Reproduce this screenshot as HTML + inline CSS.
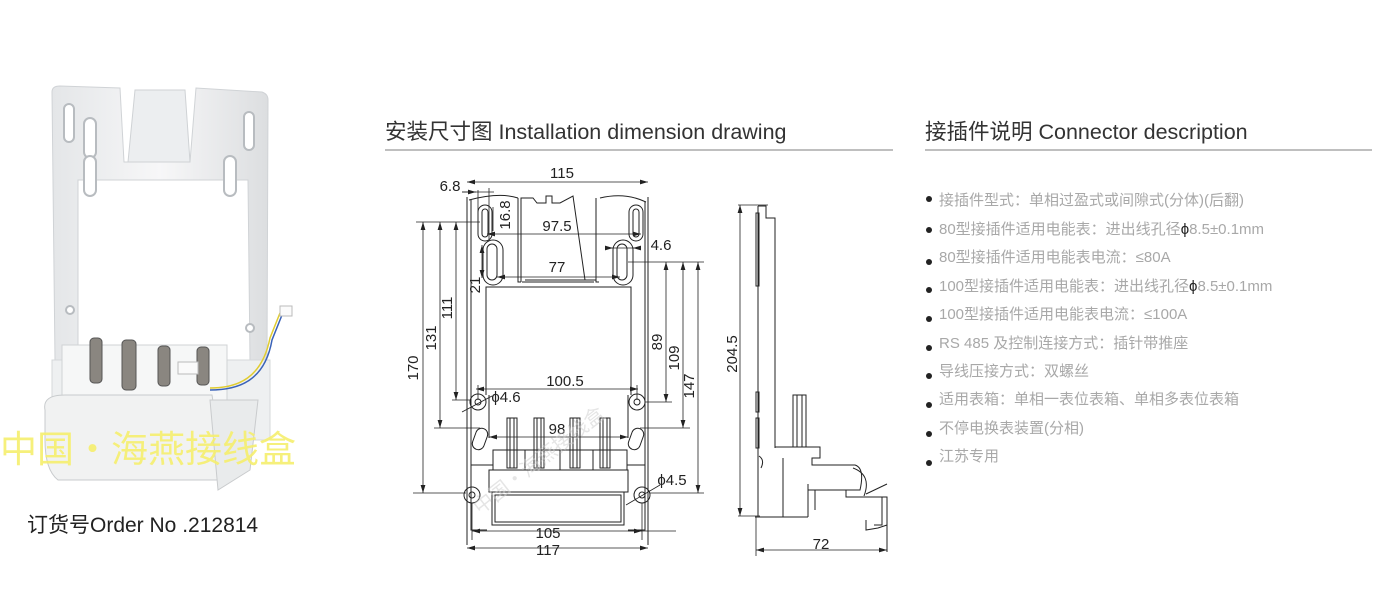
<!DOCTYPE html>
<html><head><meta charset="utf-8"><style>
html,body{margin:0;padding:0;background:#fff;}
body{width:1386px;height:594px;overflow:hidden;position:relative;font-family:"Liberation Sans","Noto Sans CJK SC",sans-serif;}
svg{position:absolute;left:0;top:0;}
</style></head><body>
<svg width="1386" height="594" viewBox="0 0 1386 594" xmlns="http://www.w3.org/2000/svg" font-family="Liberation Sans, Noto Sans CJK SC, sans-serif">
<defs>
<linearGradient id="g1" x1="0" x2="1"><stop offset="0" stop-color="#e4e6e8"/><stop offset="0.5" stop-color="#f7f7f8"/><stop offset="1" stop-color="#dcdee0"/></linearGradient>
<marker id="a" viewBox="0 0 10 6" refX="10" refY="3" markerWidth="10" markerHeight="6" orient="auto-start-reverse"><path d="M0,0 L10,3 L0,6 z" fill="#222"/></marker>
</defs>

<!-- PHOTO -->
<g>
<path d="M52,92 Q52,86 60,86 L120,88 L124,162 L190,162 L196,88 L262,92 Q268,94 268,100 L267,360 L250,360 L248,180 L78,180 L78,360 L55,360 Z" fill="url(#g1)" stroke="#d0d3d6"/>
<path d="M135,90 L185,90 L190,162 L128,162 Z" fill="#eceef0" stroke="#cfd2d5"/>
<rect x="84" y="118" width="12" height="40" rx="6" fill="#fff" stroke="#b8bcc0" stroke-width="2"/>
<rect x="84" y="156" width="12" height="40" rx="6" fill="#fff" stroke="#b8bcc0" stroke-width="2"/>
<rect x="224" y="156" width="12" height="40" rx="6" fill="#fff" stroke="#b8bcc0" stroke-width="2"/>
<rect x="244" y="112" width="10" height="38" rx="5" fill="#fff" stroke="#b8bcc0" stroke-width="2"/>
<rect x="64" y="104" width="10" height="38" rx="5" fill="#fff" stroke="#b8bcc0" stroke-width="2"/>
<circle cx="70" cy="310" r="4" fill="#fff" stroke="#b8bcc0" stroke-width="2"/>
<circle cx="250" cy="328" r="4" fill="#fff" stroke="#b8bcc0" stroke-width="2"/>
<rect x="52" y="360" width="218" height="80" fill="#eef0f1" stroke="#d5d8da"/>
<rect x="62" y="345" width="165" height="55" fill="#f6f7f7" stroke="#d0d3d5"/>
<g fill="#8a8680" stroke="#555">
<rect x="90" y="338" width="12" height="45" rx="4"/><rect x="122" y="340" width="14" height="50" rx="4"/>
<rect x="158" y="346" width="12" height="40" rx="4"/><rect x="197" y="347" width="12" height="38" rx="4"/>
</g>
<rect x="178" y="362" width="20" height="12" fill="#fafafa" stroke="#bbb"/>
<path d="M45,410 Q42,395 65,395 L212,395 L225,480 L58,480 Q45,470 45,440 Z" fill="#f1f2f2" stroke="#c8cbcd"/>
<path d="M210,400 L258,400 L250,470 L218,490 Z" fill="#e9ebec" stroke="#c9cbcd"/>
<path d="M210,390 C240,390 265,380 272,340 L282,315" fill="none" stroke="#3a62b8" stroke-width="1.5"/>
<path d="M210,388 C238,388 262,378 270,338 L280,313" fill="none" stroke="#e0cc30" stroke-width="1.5"/>
<rect x="280" y="306" width="12" height="10" fill="#fbfbfb" stroke="#bbb"/>
<text x="0" y="462" font-size="37" fill="#f6ef70" opacity="0.92" font-family="Noto Sans CJK SC, sans-serif">中国·海燕接线盒</text>
<text x="27" y="532" font-size="21" fill="#222">订货号Order No .212814</text>
</g>

<!-- HEADERS -->
<text x="385" y="139" font-size="21.5" fill="#333">安装尺寸图 Installation dimension drawing</text>
<line x1="385" y1="150" x2="893" y2="150" stroke="#aaa" stroke-width="1.5"/>
<text x="925" y="139" font-size="21.5" fill="#333">接插件说明 Connector description</text>
<line x1="925" y1="150" x2="1372" y2="150" stroke="#aaa" stroke-width="1.5"/>

<!-- FRONT DRAWING -->
<g fill="none" stroke="#222" stroke-width="1">
<path d="M467,197 L467,545 M648,197 L648,545"/>
<path d="M469,200 Q500,192 518,198 M600,198 Q625,192 646,202"/>
<path d="M471,200 L471,465 L493,465 M645,202 L645,465 L627,465"/>
<path d="M521,280 L521,198 L533,198 L537,203 L546,203 L546,196 L552,196 L552,203 L560,203 L573,196 L585,280 L596,280 L596,198"/>
<path d="M518,198 L518,282 L521,282 M596,278 L596,282 L599,282 M521,282 L521,280 M522,282 L594,282 M525,280 L585,280"/>
<rect x="478" y="205" width="14" height="36" rx="7"/><rect x="482" y="209" width="6" height="28" rx="3"/>
<rect x="483" y="240" width="20" height="45" rx="10"/><rect x="487" y="244" width="10" height="36" rx="5"/>
<rect x="629" y="205" width="14" height="36" rx="7"/><rect x="633" y="209" width="6" height="28" rx="3"/>
<rect x="613" y="240" width="20" height="45" rx="10"/><rect x="617" y="244" width="10" height="36" rx="5"/>
<path d="M486,395 L486,287 L631,287 L631,395"/>
<circle cx="478" cy="402" r="8"/><circle cx="478" cy="402" r="3"/>
<circle cx="637" cy="402" r="8"/><circle cx="637" cy="402" r="3"/>
<rect x="474" y="428" width="12" height="22" rx="6" transform="rotate(20 480 439)"/>
<rect x="630" y="428" width="12" height="22" rx="6" transform="rotate(20 636 439)"/>
<path d="M489,395 L489,438 M628,395 L628,438"/>
<g>
<rect x="507" y="418" width="10" height="50"/><rect x="510" y="418" width="4" height="50"/>
<rect x="534" y="418" width="10" height="50"/><rect x="537" y="418" width="4" height="50"/>
<rect x="570" y="418" width="10" height="50"/><rect x="573" y="418" width="4" height="50"/>
<rect x="600" y="418" width="10" height="50"/><rect x="603" y="418" width="4" height="50"/>
</g>
<rect x="493" y="450" width="134" height="20"/>
<path d="M525,450 L525,470 M560,450 L560,470 M593,450 L593,470"/>
<rect x="489" y="470" width="139" height="22"/>
<rect x="492" y="492" width="132" height="33"/><rect x="495" y="495" width="126" height="27"/>
<circle cx="472" cy="495" r="8"/><circle cx="472" cy="495" r="3"/>
<circle cx="642" cy="495" r="8"/><circle cx="642" cy="495" r="3"/>
<path d="M471,465 L471,530 L487,530 M645,465 L645,530 L628,530"/>
</g>
<!-- dims -->
<g stroke="#222" stroke-width="0.8" fill="none">
<line x1="467" y1="182" x2="648" y2="182" marker-start="url(#a)" marker-end="url(#a)"/>
<line x1="462" y1="192" x2="494" y2="192"/><line x1="462" y1="192" x2="476" y2="192" marker-end="url(#a)"/>
<line x1="478" y1="190" x2="478" y2="215"/><line x1="489" y1="188" x2="489" y2="240"/>
<line x1="493" y1="207" x2="493" y2="231"/>
<line x1="487" y1="234" x2="641" y2="234" marker-start="url(#a)" marker-end="url(#a)"/>
<line x1="482" y1="245" x2="482" y2="278" marker-start="url(#a)" marker-end="url(#a)"/>
<line x1="497" y1="277" x2="620" y2="277" marker-start="url(#a)" marker-end="url(#a)"/>
<line x1="605" y1="248" x2="640" y2="248"/><line x1="606" y1="248" x2="613" y2="248" marker-end="url(#a)"/>
<line x1="640" y1="248" x2="633" y2="248" marker-end="url(#a)"/>
<line x1="476" y1="389" x2="638" y2="389" marker-start="url(#a)" marker-end="url(#a)"/>
<line x1="478" y1="385" x2="478" y2="400"/><line x1="637" y1="385" x2="637" y2="400"/>
<line x1="489" y1="437" x2="628" y2="437" marker-start="url(#a)" marker-end="url(#a)"/>
<line x1="472" y1="531" x2="642" y2="531" marker-start="url(#a)" marker-end="url(#a)"/>
<line x1="472" y1="503" x2="472" y2="540"/><line x1="642" y1="503" x2="642" y2="540"/><line x1="628" y1="531" x2="676" y2="531"/>
<line x1="467" y1="548" x2="648" y2="548" marker-start="url(#a)" marker-end="url(#a)"/>
<line x1="416" y1="222" x2="480" y2="222"/><line x1="434" y1="428" x2="480" y2="428"/>
<line x1="413" y1="493" x2="466" y2="493"/><line x1="452" y1="400" x2="470" y2="400"/>
<line x1="423" y1="222" x2="423" y2="493" marker-start="url(#a)" marker-end="url(#a)"/>
<line x1="440" y1="222" x2="440" y2="428" marker-start="url(#a)" marker-end="url(#a)"/>
<line x1="456" y1="222" x2="456" y2="400" marker-start="url(#a)" marker-end="url(#a)"/>
<line x1="628" y1="262" x2="704" y2="262"/><line x1="645" y1="402" x2="672" y2="402"/>
<line x1="640" y1="428" x2="690" y2="428"/><line x1="650" y1="493" x2="704" y2="493"/>
<line x1="666" y1="262" x2="666" y2="402" marker-start="url(#a)" marker-end="url(#a)"/>
<line x1="683" y1="262" x2="683" y2="428" marker-start="url(#a)" marker-end="url(#a)"/>
<line x1="698" y1="262" x2="698" y2="493" marker-start="url(#a)" marker-end="url(#a)"/>
<line x1="462" y1="412" x2="492" y2="396"/><line x1="626" y1="505" x2="660" y2="485"/>
</g>
<g font-size="15" fill="#222" text-anchor="middle">
<text x="562" y="178">115</text>
<text x="450" y="191">6.8</text>
<text x="557" y="231">97.5</text>
<text x="557" y="272">77</text>
<text x="661" y="250">4.6</text>
<text x="565" y="386">100.5</text>
<text x="557" y="434">98</text>
<text x="548" y="538">105</text>
<text x="548" y="555">117</text>
<text x="506" y="402">ϕ4.6</text>
<text x="672" y="485">ϕ4.5</text>
<text transform="translate(510,215) rotate(-90)">16.8</text>
<text transform="translate(480,285) rotate(-90)">21</text>
<text transform="translate(418,368) rotate(-90)">170</text>
<text transform="translate(436,338) rotate(-90)">131</text>
<text transform="translate(452,308) rotate(-90)">111</text>
<text transform="translate(662,342) rotate(-90)">89</text>
<text transform="translate(679,358) rotate(-90)">109</text>
<text transform="translate(694,386) rotate(-90)">147</text>
<text transform="translate(737,354) rotate(-90)">204.5</text>
<text x="821" y="549">72</text>
</g>
<text transform="translate(480,515) rotate(-38)" font-size="20" fill="#ccc" opacity="0.5" font-family="Noto Sans CJK SC, sans-serif">中国·海燕接线盒</text>

<!-- SIDE VIEW -->
<g fill="none" stroke="#222" stroke-width="1">
<path d="M758,206 L766,206 L766,218 L775,218 L775,448"/>
<path d="M758,206 L758,516"/>
<rect x="756" y="213" width="3" height="73"/><rect x="756" y="392" width="3" height="20"/><rect x="756" y="418" width="3" height="30"/>
<path d="M759,456 Q765,460 761,468"/>
<rect x="793" y="395" width="13" height="52"/><path d="M797,395 L797,447 M802,395 L802,447"/>
<path d="M775,447 L820,447 L820,458 L812,458 L812,465 L855,465 Q865,468 860,490 L850,490 L850,490 L808,490 L808,517 M783,458 L783,517 M755,517 L808,517"/>
<path d="M808,484 L808,510 M808,490 L815,490 L815,510"/>
<path d="M853,468 Q872,475 864,496 M846,490 L846,497 L882,497 L882,525 L874,525 M866,494 L887,484"/>
<path d="M848,497 L887,497 L887,552"/>
<path d="M866,520 L866,530 L878,528 L887,525"/>
</g>
<g stroke="#222" stroke-width="0.8" fill="none">
<line x1="738" y1="205" x2="768" y2="205"/><line x1="738" y1="516" x2="760" y2="516"/>
<line x1="740" y1="205" x2="740" y2="516" marker-start="url(#a)" marker-end="url(#a)"/>
<line x1="756" y1="517" x2="756" y2="556"/>
<line x1="756" y1="550" x2="887" y2="550" marker-start="url(#a)" marker-end="url(#a)"/>
</g>

<!-- LIST -->
<g font-size="15" fill="#a8a8a8" font-family="Liberation Sans, Noto Sans CJK SC, sans-serif">
<text x="939" y="205">接插件型式：单相过盈式或间隙式(分体)(后翻)</text>
<text x="939" y="234">80型接插件适用电能表：进出线孔径<tspan fill="#222">ϕ</tspan>8.5±0.1mm</text>
<text x="939" y="262">80型接插件适用电能表电流：≤80A</text>
<text x="939" y="291">100型接插件适用电能表：进出线孔径<tspan fill="#222">ϕ</tspan>8.5±0.1mm</text>
<text x="939" y="319">100型接插件适用电能表电流：≤100A</text>
<text x="939" y="348">RS 485 及控制连接方式：插针带推座</text>
<text x="939" y="376">导线压接方式：双螺丝</text>
<text x="939" y="404">适用表箱：单相一表位表箱、单相多表位表箱</text>
<text x="939" y="433">不停电换表装置(分相)</text>
<text x="939" y="461">江苏专用</text>
</g>
<g fill="#222">
<circle cx="929" cy="199" r="3"/><circle cx="929" cy="230" r="3"/><circle cx="929" cy="262" r="3"/>
<circle cx="929" cy="290" r="3"/><circle cx="929" cy="319" r="3"/><circle cx="929" cy="348" r="3"/>
<circle cx="929" cy="376" r="3"/><circle cx="929" cy="405" r="3"/><circle cx="929" cy="434" r="3"/>
<circle cx="929" cy="463" r="3"/>
</g>
</svg>
</body></html>
